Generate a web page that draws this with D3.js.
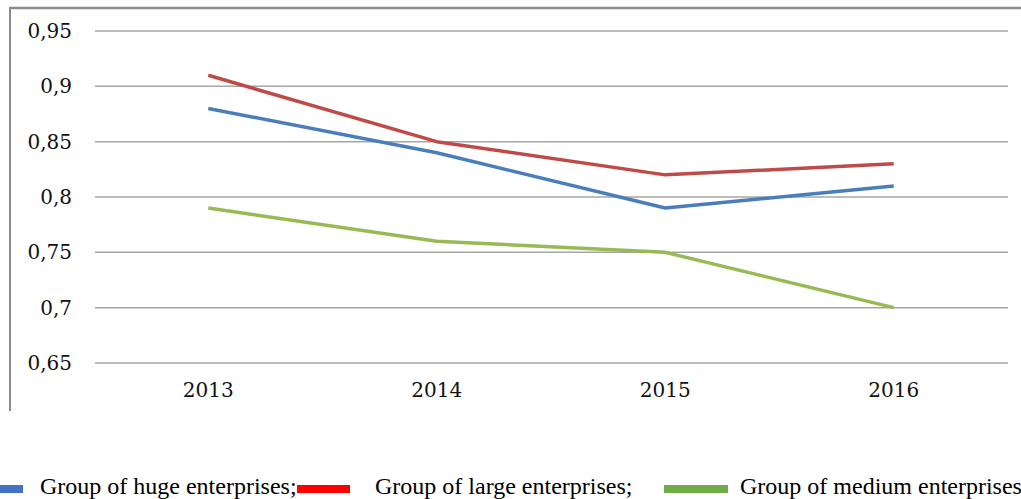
<!DOCTYPE html>
<html>
<head>
<meta charset="utf-8">
<script src="https://cdn.jsdelivr.net/npm/d3@7"></script>
<style>
  body { margin: 0; background: #fff; }
  svg { display: block; }
</style>
</head>
<body>
<div id="view"></div>
<script>
// chart data
var years = ["2013", "2014", "2015", "2016"];
var huge = [0.88, 0.84, 0.79, 0.81];
var large = [0.91, 0.85, 0.82, 0.83];
var medium = [0.79, 0.76, 0.75, 0.70];
var yTicks = [0.65, 0.7, 0.75, 0.8, 0.85, 0.9, 0.95];
var seriesNames = ["Group of huge enterprises;", "Group of large enterprises;", "Group of medium enterprises"];

var W = 1021, H = 499;
var svg = d3.select("#view").append("svg")
	.attr("width", W)
	.attr("height", H);

var x = d3.scaleBand().domain(years).range([94, 1008]);
var y = d3.scaleLinear().domain([0.65, 0.95]).range([363, 31]);

var tickFont = "'DejaVu Serif', 'Liberation Serif', serif";

// frame (top + left)
svg.append("line").attr("x1", 10).attr("x2", W).attr("y1", 8).attr("y2", 8)
	.style("stroke", "#8c8c8c").style("stroke-width", 2.5);
svg.append("line").attr("x1", 10).attr("x2", 10).attr("y1", 7).attr("y2", 411)
	.style("stroke", "#8c8c8c").style("stroke-width", 2);

// gridlines
svg.selectAll(".grid").data(yTicks).enter().append("line")
	.attr("class", "grid")
	.attr("x1", 95).attr("x2", 1008)
	.attr("y1", function(d){ return y(d); })
	.attr("y2", function(d){ return y(d); })
	.style("stroke", "#a6a6a6").style("stroke-width", 1.5);

// y axis labels
var fmt = function(d){ return String(+d.toFixed(2)).replace(".", ","); };
svg.selectAll(".ylab").data(yTicks).enter().append("text")
	.attr("x", 72)
	.attr("y", function(d){ return y(d) + 7; })
	.attr("text-anchor", "end")
	.style("font-family", tickFont)
	.style("font-size", "20px")
	.style("fill", "#111")
	.text(fmt);

// x axis labels
svg.selectAll(".xlab").data(years).enter().append("text")
	.attr("x", function(d){ return x(d) + x.bandwidth() / 2; })
	.attr("y", 397)
	.attr("text-anchor", "middle")
	.style("font-family", tickFont)
	.style("font-size", "20px")
	.style("fill", "#111")
	.text(function(d){ return d; });

// lines
var line = d3.line()
	.x(function(d, i){ return x(years[i]) + x.bandwidth() / 2; })
	.y(function(d){ return y(d); });

var series = [
	{ vals: huge, color: "#4a7ebb" },
	{ vals: large, color: "#be4b48" },
	{ vals: medium, color: "#98b954" }
];
svg.selectAll(".series").data(series).enter().append("path")
	.attr("d", function(d){ return line(d.vals); })
	.style("fill", "none")
	.style("stroke", function(d){ return d.color; })
	.style("stroke-width", 3.5)
	.style("stroke-linejoin", "round");

// legend
var legend = [
	{ name: seriesNames[0], color: "#4472c4", sx: 0, sw: 23, tx: 40 },
	{ name: seriesNames[1], color: "#ff0000", sx: 297, sw: 53, tx: 375 },
	{ name: seriesNames[2], color: "#70ad47", sx: 664, sw: 64, tx: 740 }
];
svg.selectAll(".lsw").data(legend).enter().append("rect")
	.attr("x", function(d){ return d.sx; })
	.attr("y", 485)
	.attr("width", function(d){ return d.sw; })
	.attr("height", 8)
	.style("fill", function(d){ return d.color; });
svg.selectAll(".ltx").data(legend).enter().append("text")
	.attr("x", function(d){ return d.tx; })
	.attr("y", 494)
	.style("font-family", "'Liberation Serif', 'Times New Roman', serif")
	.style("font-size", "24px")
	.style("fill", "#000")
	.text(function(d){ return d.name; });
</script>
</body>
</html>
